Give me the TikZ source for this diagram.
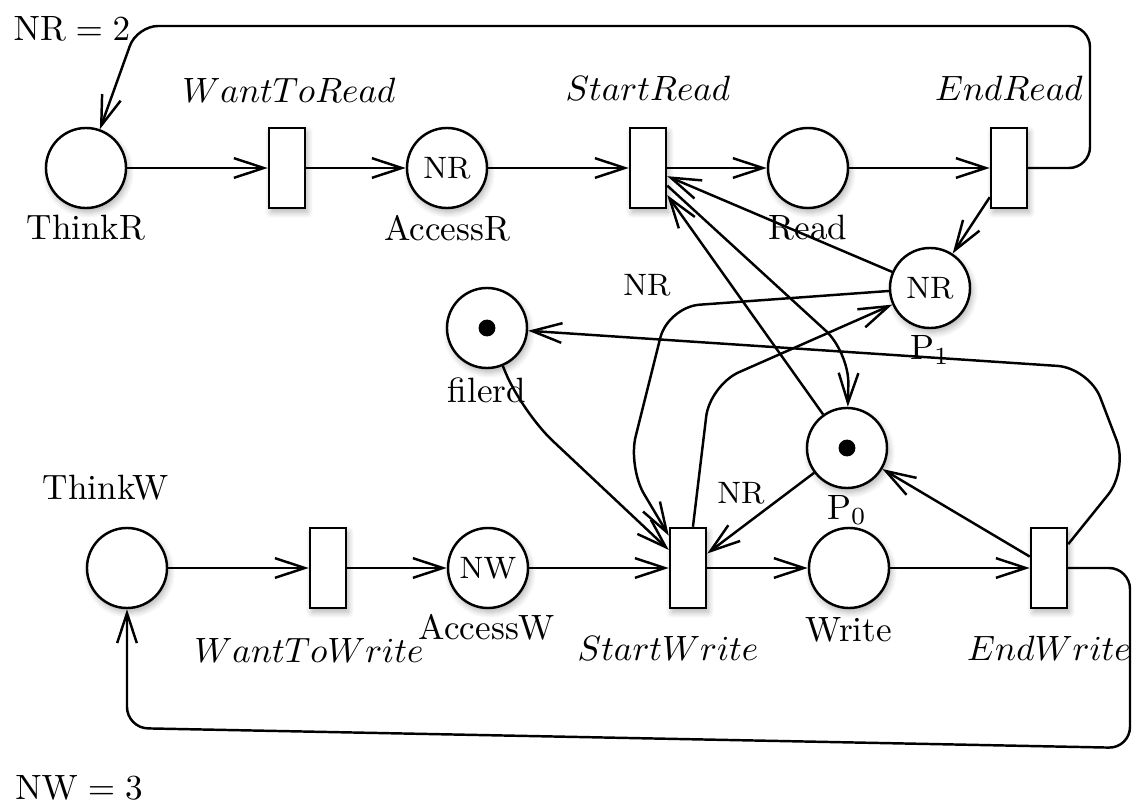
\documentclass[tikz,border=0pt]{standalone}
\usetikzlibrary{arrows.meta,shadows.blur}
\begin{document}
\begin{tikzpicture}[x=0.01cm,y=-0.01cm,
  line width=0.7pt,
  >={Straight Barb[length=8.5pt,width=5.6pt]},
  soft/.style={blur shadow={shadow xshift=0.6pt,shadow yshift=-1.2pt,shadow blur steps=6,shadow opacity=30}},
  place/.style={circle,draw,fill=white,minimum size=0.8cm,inner sep=0pt,font=\fontsize{8.8}{10}\selectfont,soft},
  trans/.style={rectangle,draw,fill=white,minimum width=0.36cm,minimum height=0.8cm,inner sep=0pt,soft},
  lbl/.style={inner sep=0pt},
  wlbl/.style={inner sep=0pt,font=\fontsize{8.8}{10}\selectfont},
]
\useasboundingbox (0,0) rectangle (1132,806);

% reader cycle
\node[place] (ThinkR) at (86,168) {};
\node[trans] (WantToRead) at (287,168) {};
\node[place] (AccessR) at (447,168) {NR};
\node[trans] (StartRead) at (648,168) {};
\node[place] (Read) at (808,168) {};
\node[trans] (EndRead) at (1009,168) {};

% shared places
\node[place] (P1) at (930,288) {NR};
\node[place] (filerd) at (487,328) {};
\node[place] (P0) at (847,448) {};
\fill (filerd) circle[radius=2.4pt];
\fill (P0) circle[radius=2.4pt];

% writer cycle
\node[place] (ThinkW) at (127,568) {};
\node[trans] (WantToWrite) at (328,568) {};
\node[place] (AccessW) at (488,568) {NW};
\node[trans] (StartWrite) at (688,568) {};
\node[place] (Write) at (849,568) {};
\node[trans] (EndWrite) at (1049,568) {};

% labels
\node[lbl] (tThinkR) at (86,228) {ThinkR};
\node[lbl] (tWantToRead) at (289,90) {$WantToRead$};
\node[lbl] (tAccessR) at (447,228) {AccessR};
\node[lbl] (tStartRead) at (648,88) {$StartRead$};
\node[lbl] (tRead) at (808,228) {Read};
\node[lbl] (tEndRead) at (1009,88) {$EndRead$};
\node[lbl] (tP1) at (930,350) {$\mathrm{P}_1$};
\node[lbl] (tfilerd) at (487,390) {filerd};
\node[lbl] (tP0) at (847,510) {$\mathrm{P}_0$};
\node[lbl] (tThinkW) at (106,488) {ThinkW};
\node[lbl] (tWantToWrite) at (309,650) {$WantToWrite$};
\node[lbl] (tAccessW) at (487,627) {AccessW};
\node[lbl] (tStartWrite) at (668,648) {$StartWrite$};
\node[lbl] (tWrite) at (849,630) {Write};
\node[lbl] (tEndWrite) at (1049,648) {$EndWrite$};
\node[lbl] (tNR) at (72,28) {$\mathrm{NR}=2$};
\node[lbl] (tNW) at (79,787) {$\mathrm{NW}=3$};
\node[wlbl] (wNRa) at (647,285) {NR};
\node[wlbl] (wNRb) at (741,493) {NR};

% reader arcs
\draw[->] (ThinkR) -- (WantToRead);
\draw[->] (WantToRead) -- (AccessR);
\draw[->] (AccessR) -- (StartRead);
\draw[->] (StartRead) -- (Read);
\draw[->] (Read) -- (EndRead);
\draw[->,rounded corners=6pt] (EndRead) -- (1090,168) -- (1090,26) -- (137,26) -- (ThinkR);
\draw[->] (EndRead) -- (P1);
\draw[->] (P1) -- (StartRead);
\draw[->] (P0) -- (StartRead);
\draw[->,rounded corners=9pt] (StartRead) -- (849,352) -- (P0);

% writer arcs
\draw[->] (ThinkW) -- (WantToWrite);
\draw[->] (WantToWrite) -- (AccessW);
\draw[->] (AccessW) -- (StartWrite);
\draw[->] (StartWrite) -- (Write);
\draw[->] (Write) -- (EndWrite);
\draw[->,rounded corners=6pt] (EndWrite) -- (1130,568) -- (1130,748) -- (127,728) -- (ThinkW);
\draw[->,rounded corners=9pt] (P1) -- (668,307) -- (628,467) -- (StartWrite);
\draw[->,rounded corners=9pt] (StartWrite) -- (710,385) -- (P1);
\draw[->] (P0) -- (StartWrite);
\draw[->,rounded corners=12pt] (filerd) -- (522,412) -- (StartWrite);
\draw[->] (EndWrite) -- (P0);
\draw[->,rounded corners=9pt] (EndWrite) -- (1128,470) -- (1089,368) -- (filerd);
\end{tikzpicture}
\end{document}
